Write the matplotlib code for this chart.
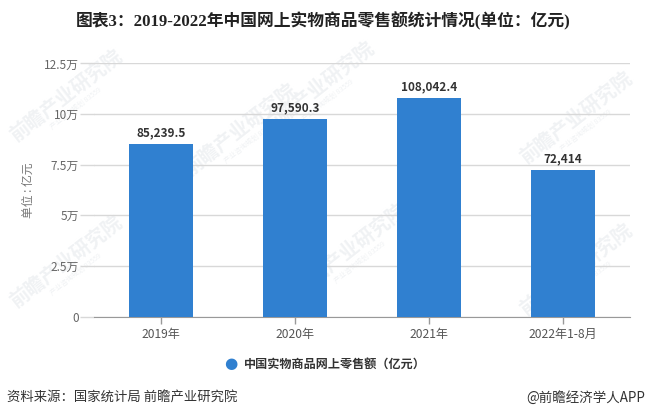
# Online retail sales bar chart
import matplotlib
matplotlib.use("Agg")
import matplotlib.pyplot as plt

plt.rcParams['font.family'] = ['Noto Sans CJK SC', 'DejaVu Sans']

W = 646
H = 419

categories = ["2019年", "2020年", "2021年", "2022年1-8月"]
sales = [85239.5, 97590.3, 108042.4, 72414]
bar_labels = ["85,239.5", "97,590.3", "108,042.4", "72,414"]
y_ticks = [0, 25000, 50000, 75000, 100000, 125000]
y_tick_labels = ["0", "2.5万", "5万", "7.5万", "10万", "12.5万"]
watermarks = [(66, 96), (318, 88), (66, 262), (240, 130), (350, 250), (576, 118), (576, 270)]

fig = plt.figure(figsize=(W / 100, H / 100), dpi=100)
ax = fig.add_axes([94 / W, 1 - 316.5 / H, 536 / W, 253 / H])
ax.set_zorder(2)

for wx, wy in watermarks:
    fig.text(wx / W, 1 - wy / H, "前瞻产业研究院", fontsize=14, color='#f0f2f4', rotation=38,
             ha='center', va='center', fontweight='bold', zorder=0)
    fig.text((wx + 10) / W, 1 - (wy + 12) / H, "产业咨询规划 83559", fontsize=5, color='#f0f2f4', rotation=38,
             ha='center', va='center', zorder=0)

ax.patch.set_alpha(0)
x = range(len(categories))
ax.bar(x, sales, width=64 / 134, color='#3080d0', zorder=3)
for i, val in enumerate(sales):
    ax.text(i, val + 2200, bar_labels[i], ha='center', va='bottom', fontsize=8.5,
            fontweight='bold', color='#333333', zorder=4)

ax.set_xlim(-0.5, 3.5)
ax.set_ylim(0, 125000)
ax.set_xticks(list(x))
ax.set_xticklabels(categories, fontsize=8.7, color='#555555')
ax.set_yticks(y_ticks)
ax.set_yticklabels(y_tick_labels, fontsize=8.5, color='#666666')
ax.tick_params(axis='y', length=10, color='#d8d8d8', width=1, pad=1)
ax.tick_params(axis='x', length=5, color='#999999', width=1, pad=3)
ax.grid(axis='y', color='#d8d8d8', linewidth=1, zorder=1)
for side in ['top', 'right', 'left']:
    ax.spines[side].set_visible(False)
ax.spines['bottom'].set_color('#999999')

fig.text(28 / W, 1 - 190 / H, "单位 : 亿元", rotation=90, fontsize=8.5, color='#777777', ha='center', va='center')
fig.text(323 / W, 1 - 21 / H, "图表3：2019-2022年中国网上实物商品零售额统计情况(单位：亿元)", fontsize=12.1,
         fontweight='bold', color='#222222', ha='center', va='center',
         family=['Liberation Serif', 'Noto Sans CJK SC'])

# legend drawn by hand so the marker sits where it does in the reference
fig.text(231 / W, 1 - 363 / H, "●", fontsize=11, color='#3080d0', ha='center', va='center', family='DejaVu Sans')
fig.text(244 / W, 1 - 364 / H, "中国实物商品网上零售额（亿元）", fontsize=8.7, fontweight='bold', color='#333333',
         ha='left', va='center')

fig.text(7 / W, 1 - 398 / H, "资料来源：国家统计局 前瞻产业研究院", fontsize=9.6, color='#333333', ha='left', va='center')
fig.text(645 / W, 1 - 398 / H, "@前瞻经济学人APP", fontsize=9.7, color='#333333', ha='right', va='center')

fig.savefig("out.png", dpi=100)
